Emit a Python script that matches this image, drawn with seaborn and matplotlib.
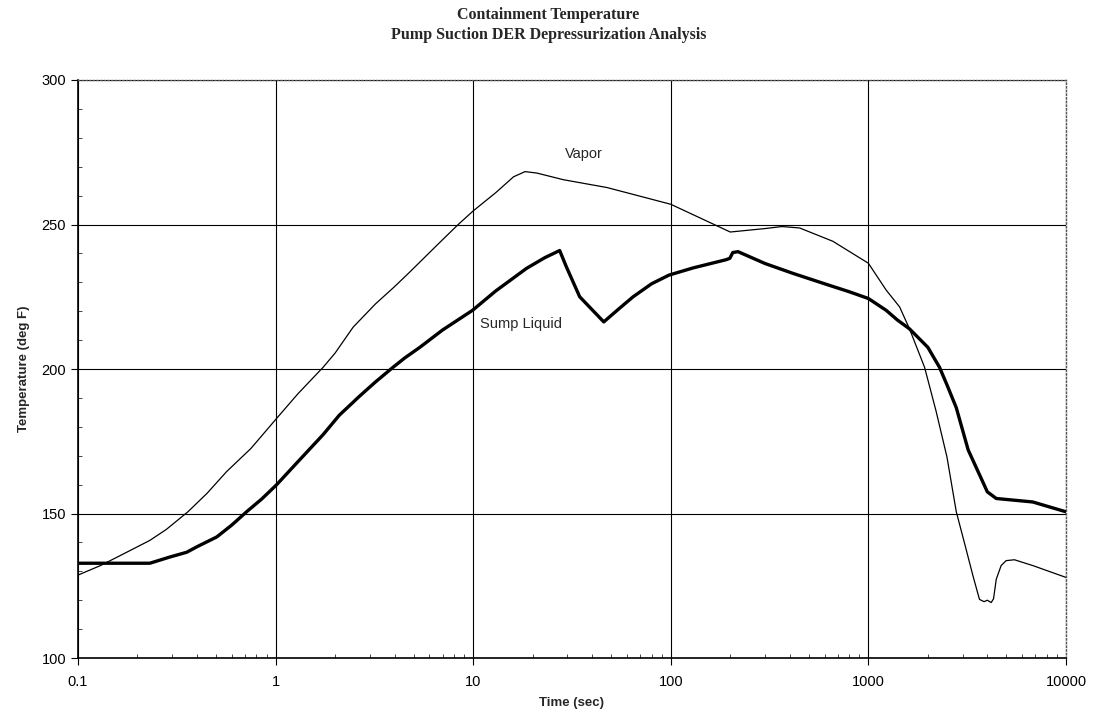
import numpy as np
import pandas as pd
import matplotlib
matplotlib.use("Agg")
import matplotlib.pyplot as plt
import seaborn as sns
from matplotlib.ticker import LogLocator, MultipleLocator, NullFormatter

# ---- data ----
vapor_t = [0.1, 0.13, 0.163, 0.231, 0.28, 0.36, 0.45, 0.565, 0.75, 1.0, 1.3, 1.74, 2.0, 2.47, 3.2, 4.0,
           4.8, 6.8, 8.4, 10, 13, 16, 18.3, 21,
           28.6, 47.5, 100, 200, 300, 366, 449, 661, 1000, 1231, 1439, 1615, 1925, 2200, 2500, 2786, 3100, 3382,
           3650, 3850, 4000, 4186, 4300, 4440, 4700, 4981, 5486, 6788, 10000]
vapor_T = [128.7, 132.0, 135.4, 140.7, 144.5, 150.6, 157.0, 164.5, 172.5, 182.5, 191.5, 200.6, 205.5, 214.5, 222.5, 228.5,
           233.7, 243.9, 250, 254.7, 261, 266.5, 268.3, 267.8,
           265.5, 262.8, 257, 247.4, 248.6, 249.3, 248.8, 244.2, 236.6, 227.3, 221.5, 213.9, 200.6, 185.5, 169.5, 150.6, 138.5, 128.5,
           120.3, 119.5, 120.0, 119.2, 120.5, 127.3, 132.0, 133.7, 134, 132, 127.9]

sump_t = [0.1, 0.17, 0.231, 0.29, 0.355, 0.4, 0.504, 0.6, 0.713, 0.85, 1.01, 1.3, 1.74, 2.1, 2.67, 3.2, 3.93,
          4.5, 5.37, 7.0, 9.92, 13, 18.6, 23, 27.4,
          29.6, 34.6, 45.8, 55, 64.5, 80, 98, 130, 190, 199, 206, 219, 300, 415, 600, 803, 1000, 1231, 1400,
          1615, 2000, 2291, 2500, 2786, 3200, 3722, 4000, 4440, 6788, 10000]
sump_T = [132.8, 132.8, 132.8, 134.9, 136.6, 138.5, 141.9, 146.0, 150.6, 155.0, 159.9, 168.0, 177.3, 184.0, 190.7, 195.5, 200.6,
          203.8, 207.5, 213.5, 220.3, 227.0, 234.8, 238.5, 241,
          235.4, 225, 216.3, 221.0, 225, 229.5, 232.5, 235.0, 237.8, 238.3, 240.3, 240.6, 236.5, 233.1, 229.5, 226.7, 224.4, 220.3, 217.0,
          213.9, 207.5, 200.6, 194.5, 186.6, 172.0, 162.2, 157.5, 155.2, 154, 150.6]

x_ticks = [0.1, 1, 10, 100, 1000, 10000]
x_tick_labels = ["0.1", "1", "10", "100", "1000", "10000"]
y_ticks = [100, 150, 200, 250, 300]

title_lines = ["Containment Temperature", "Pump Suction DER Depressurization Analysis"]
x_label = "Time (sec)"
y_label = "Temperature (deg F)"

df_vapor = pd.DataFrame({"t": vapor_t, "T": vapor_T})
df_sump = pd.DataFrame({"t": sump_t, "T": sump_T})

sns.set_style("white")
plt.rcParams["font.family"] = ["Liberation Sans", "DejaVu Sans"]

fig = plt.figure(figsize=(10.97, 7.22), dpi=100)
ax = fig.add_axes([0.0711, 0.0886, 0.9006, 0.8006])

sns.lineplot(data=df_vapor, x="t", y="T", ax=ax, color="black", lw=0.9,
             estimator=None, sort=False)
sns.lineplot(data=df_sump, x="t", y="T", ax=ax, color="black", lw=2.4,
             estimator=None, sort=False)

ax.set_xscale("log")
ax.set_xlim(0.1, 10000)
ax.set_ylim(100, 300)

ax.set_xticks(x_ticks)
ax.set_xticklabels(x_tick_labels)
ax.xaxis.set_minor_locator(LogLocator(base=10, subs=np.arange(2, 10), numticks=100))
ax.xaxis.set_minor_formatter(NullFormatter())
ax.set_yticks(y_ticks)
ax.yaxis.set_minor_locator(MultipleLocator(10))

ax.grid(True, which="major", color="black", lw=0.8)
ax.tick_params(axis="both", which="major", direction="out", length=5, width=0.8,
               labelsize=10.5, colors="black", bottom=True, left=True)
ax.tick_params(axis="both", which="minor", direction="in", length=3, width=0.6,
               bottom=True, left=True)
ax.tick_params(axis="x", which="major", pad=7)

for s in ["left", "bottom"]:
    ax.spines[s].set_color("black")
    ax.spines[s].set_linewidth(1.2)
for s in ["top", "right"]:
    ax.spines[s].set_color("#555555")
    ax.spines[s].set_linewidth(1.0)
    ax.spines[s].set_linestyle(":")

ax.set_xlabel(x_label, fontsize=9.5, fontweight="bold", labelpad=6)
ax.set_ylabel(y_label, fontsize=9.5, fontweight="bold", labelpad=8)

fig.text(0.5, 0.99, title_lines[0] + "\n" + title_lines[1], ha="center", va="top",
         fontsize=11.5, fontweight="bold", family=["Liberation Serif", "DejaVu Serif"],
         linespacing=1.3)

ax.text(36.2, 274.5, "Vapor", fontsize=10.5, ha="center", va="center")
ax.text(10.8, 215.6, "Sump Liquid", fontsize=10.5, ha="left", va="center")

fig.savefig("out.png", dpi=100)
